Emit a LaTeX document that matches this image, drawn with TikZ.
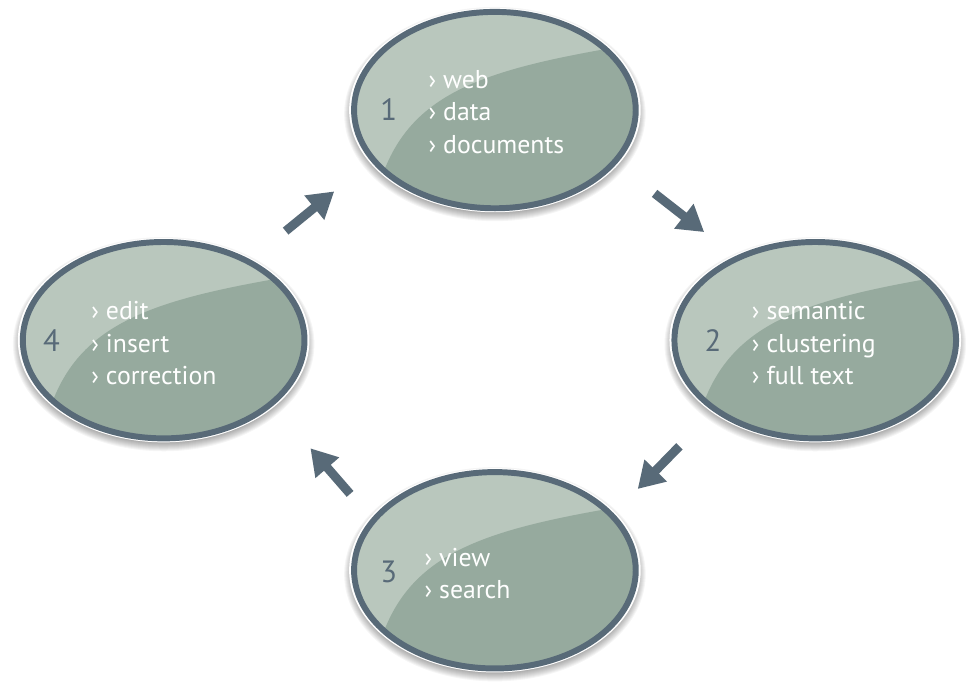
\documentclass[tikz,border=0pt]{standalone}
\usepackage{fontspec}
\setmainfont{PT Sans}
\usetikzlibrary{arrows.meta}
\definecolor{ring}{HTML}{586A78}
\definecolor{lightfill}{HTML}{B9C7BD}
\definecolor{darkfill}{HTML}{96AA9E}
\tikzset{
  bubbletext/.style={text=white, font=\fontsize{26}{32.5}\selectfont, align=left, anchor=west, inner sep=0pt},
  bubblenum/.style={text=ring, font=\fontsize{31}{31}\selectfont, inner sep=0pt},
  flow/.style={draw=ring, line width=9pt, -{Triangle[length=26pt,width=30pt]}},
}
\newcommand{\mybubble}[3]{%
  \begin{scope}[shift={(#2,#3)}]
    \foreach \i in {1,...,9} \fill[black, opacity=0.04] (0,4) ellipse ({143pt+\i*1pt} and {99pt+\i*1pt});
    \fill[white] (0,0) ellipse (147pt and 103pt);
    \begin{scope}
      \clip (0,0) ellipse (142pt and 99pt);
      \fill[lightfill] (-150,-110) rectangle (150,110);
      \fill[darkfill] (-118,80) .. controls (-90,-20) and (-10,-42) .. (150,-68) -- (160,120) -- (-120,120) -- cycle;
    \end{scope}
    \draw[ring, line width=6pt] (0,0) ellipse (142pt and 99pt);
    \coordinate (#1) at (0,0);
  \end{scope}
}
\begin{document}
\begin{tikzpicture}[x=1pt,y=-1pt]
\fill[white] (0,0) rectangle (966,688);
\mybubble{e1}{499}{111}
\mybubble{e2}{822}{343}
\mybubble{e3}{499}{575}
\mybubble{e4}{165}{343}
\node[bubbletext] (t1) at (432,113) {› web\\› data\\› documents};
\node[bubblenum] (n1) at (392,110) {1};
\node[bubbletext] (t2) at (758,346) {› semantic\\› clustering\\› full text};
\node[bubblenum] (n2) at (719,343) {2};
\node[bubbletext] (t3) at (428,578) {› view\\› search};
\node[bubblenum] (n3) at (392,577) {3};
\node[bubbletext] (t4) at (92,346) {› edit\\› insert\\› correction};
\node[bubblenum] (n4) at (52,343) {4};
\coordinate (a12s) at (660,195); \coordinate (a12e) at (710,234);
\coordinate (a23s) at (685,450); \coordinate (a23e) at (643,493);
\coordinate (a34s) at (353,498); \coordinate (a34e) at (313,452);
\coordinate (a41s) at (288,233); \coordinate (a41e) at (337,193);
\draw[flow] (a12s) -- (a12e);
\draw[flow] (a23s) -- (a23e);
\draw[flow] (a34s) -- (a34e);
\draw[flow] (a41s) -- (a41e);
\end{tikzpicture}
\end{document}
